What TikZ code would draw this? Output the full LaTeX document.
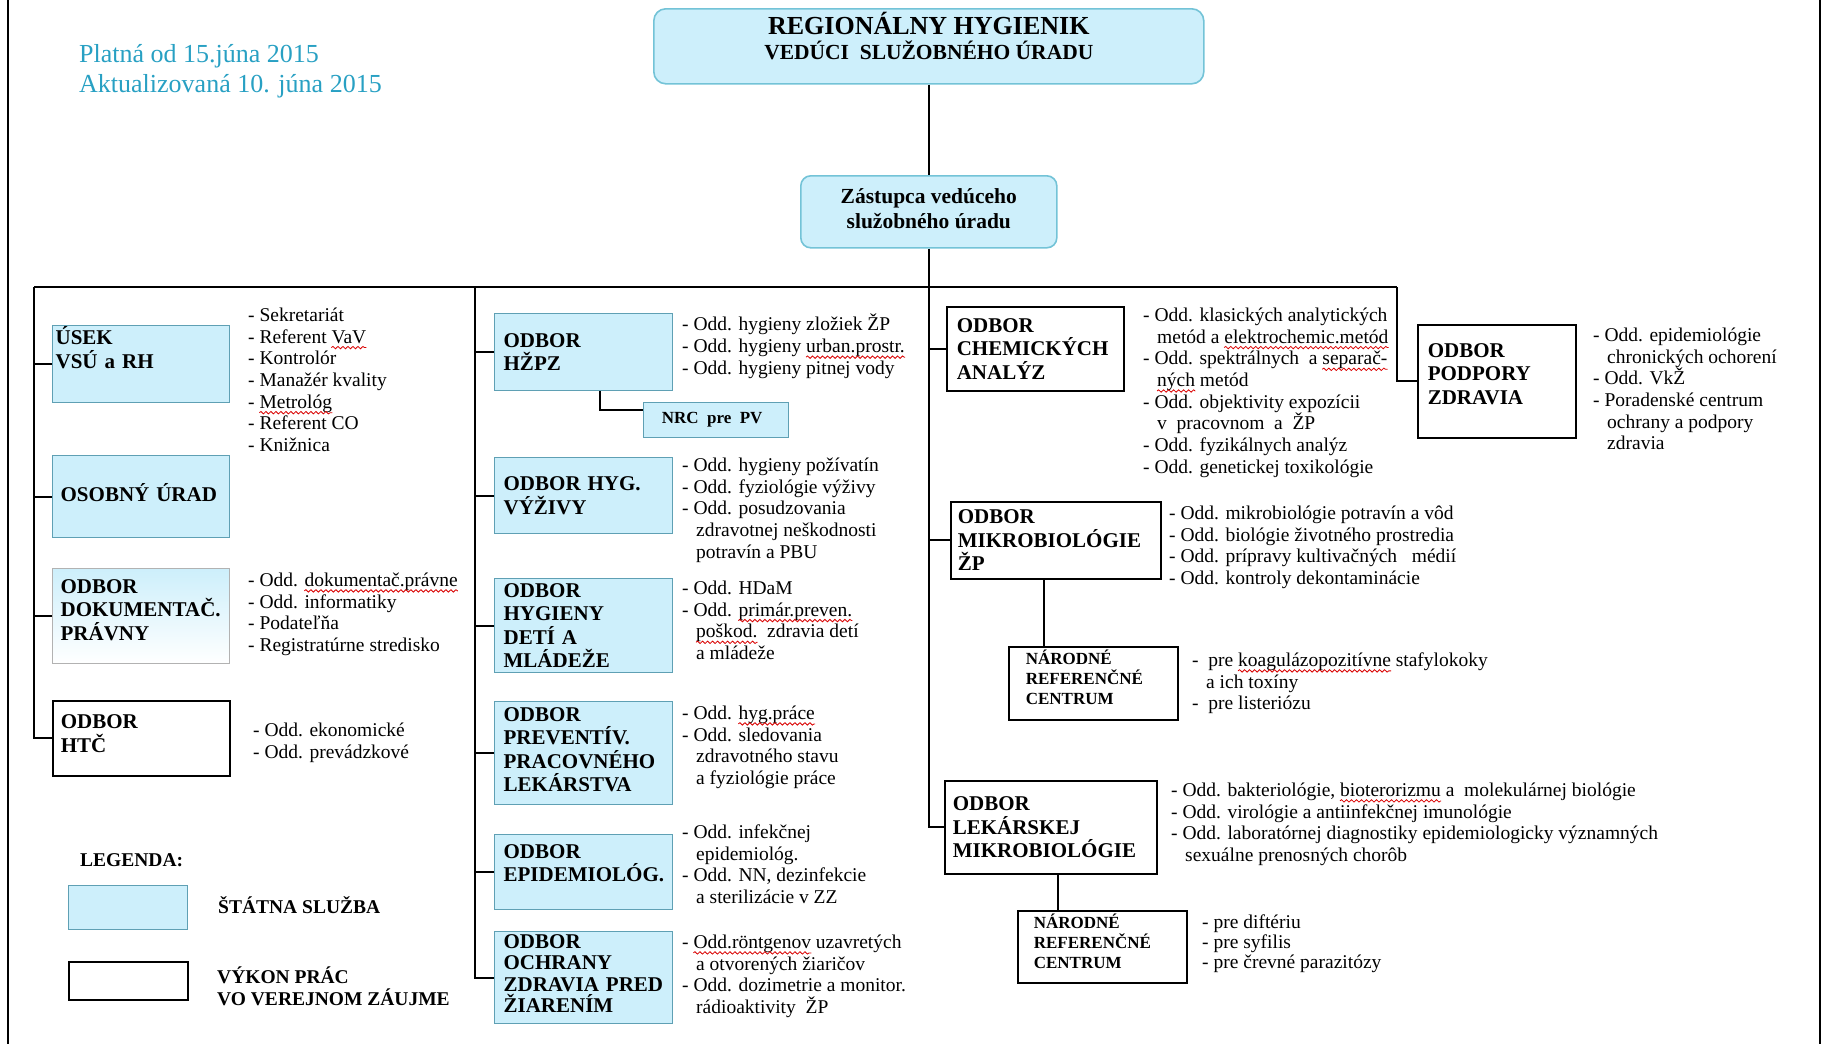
\documentclass[tikz,border=0pt]{standalone}
\usepackage{fontspec}
\setmainfont{Liberation Serif}
\usetikzlibrary{calc,decorations.pathmorphing}
\definecolor{statefill}{RGB}{205,239,251}
\definecolor{stateline}{RGB}{95,160,180}
\definecolor{headline}{RGB}{115,195,215}
\definecolor{datecol}{RGB}{40,160,195}
\newcommand\ind{\hspace*{14pt}}
\newcommand\spell[1]{\tikz[baseline=(sw.base)]{\node[inner sep=0pt, anchor=base west] (sw) {#1}; \draw[overlay, red!85!black, line width=0.8pt, decorate, decoration={snake, amplitude=1.2pt, segment length=5pt}] ([yshift=-4.5pt]sw.base west) -- ([yshift=-4.5pt]sw.base east);}}
\begin{document}
\begin{tikzpicture}[x=1pt,y=-1pt,
	conn/.style={line width=1.7pt},
	box/.style={rectangle, anchor=north west, inner xsep=8pt, inner ysep=0pt, align=left, font=\fontsize{21}{23.5}\selectfont\bfseries},
	stat/.style={box, draw=stateline, line width=1.3pt, fill=statefill},
	grad/.style={box, draw=gray!60, line width=1.3pt, top color=statefill, bottom color=white},
	verej/.style={box, draw=black, line width=1.6pt, fill=white},
	nrcbox/.style={verej, inner xsep=17pt, font=\fontsize{17}{20}\selectfont\bfseries},
	head/.style={rectangle, rounded corners=12pt, draw=headline, line width=1.6pt, fill=statefill, anchor=north west, align=center, inner sep=0pt, font=\fontsize{21.5}{24.5}\selectfont\bfseries},
	lst/.style={anchor=north west, inner sep=0pt, align=left, font=\fontsize{19.5}{21.7}\selectfont},
	leg/.style={anchor=west, inner sep=0pt, align=left, font=\fontsize{19.5}{22}\selectfont\bfseries}]
	\useasboundingbox (0,0) rectangle (1825,1044);
	% page edges
	\draw[line width=2pt] (8,0) -- (8,1044);
	\draw[line width=2pt] (1820,0) -- (1820,1044);
	% dates
	\node[anchor=north west, inner sep=0pt, align=left, text=datecol, font=\fontsize{26}{30}\selectfont] (datum) at (79,41) {\strut Platná od 15.júna 2015\\Aktualizovaná 10. júna 2015};
	% head of office
	\node[head, minimum width=550, minimum height=75, text depth=21pt] (rh) at (653,8) {{\fontsize{26}{24.5}\selectfont REGIONÁLNY HYGIENIK}\\VEDÚCI\ \ SLUŽOBNÉHO ÚRADU};
	\node[head, rounded corners=10pt, minimum width=256, minimum height=72, text depth=7pt] (zast) at (800,175) {Zástupca vedúceho\\služobného úradu};
	\draw[conn] (rh.south) -- (zast.north);
	\coordinate (busl) at (34,287);
	\coordinate (bus2) at (475,287);
	\coordinate (busr) at (1397,287);
	\draw[conn] (zast.south) -- (zast.south |- busl);
	\draw[conn] (busl) -- (busr);
	% left column
	\node[stat, text width=171, inner xsep=3pt, minimum height=77, text depth=57pt] (usek) at (52,325) {ÚSEK\\VSÚ~a~RH};
	\node[stat, text width=161, minimum height=82, text depth=9pt] (osob) at (52,455) {OSOBNÝ~ÚRAD};
	\node[grad, text width=161, minimum height=95, text depth=60pt] (dok) at (52,568) {ODBOR\\DOKUMENTAČ.\\PRÁVNY};
	\node[verej, text width=161, minimum height=75, text depth=33pt] (htc) at (52,700) {ODBOR\\HTČ};
	\node[lst] (usekl) at (248,306) {\strut- Sekretariát\\- Referent \spell{VaV}\\- Kontrolór\\- Manažér kvality\\- \spell{Metrológ}\\- Referent CO\\- Knižnica};
	\node[lst] (dokl) at (248,571) {\strut- Odd. \spell{dokumentač.právne}\\- Odd. informatiky\\- Podateľňa\\- Registratúrne stredisko};
	\node[lst] (htcl) at (253,721) {\strut- Odd. ekonomické\\- Odd. prevádzkové};
	\draw[conn] (busl) |- (htc.west);
	\foreach \n in {usek,osob,dok}
		\draw[conn] (busl |- \n.west) -- (\n.west);
	% middle column
	\node[stat, text width=160, inner xsep=9pt, minimum height=77] (hzpz) at (494,313) {ODBOR\\HŽPZ};
	\node[stat, inner xsep=0pt, minimum width=145, minimum height=35, align=center, font=\fontsize{17}{20}\selectfont\bfseries] (nrc) at (643,402) {NRC\ \ pre\ \ PV\hspace*{8pt}};
	\node[stat, text width=160, inner xsep=9pt, minimum height=76] (vyz) at (494,457) {ODBOR~HYG.\\VÝŽIVY};
	\node[stat, text width=160, inner xsep=9pt, minimum height=94] (deti) at (494,578) {ODBOR\\HYGIENY\\DETÍ~A\\MLÁDEŽE};
	\node[stat, text width=160, inner xsep=9pt, minimum height=103, text depth=78pt] (prev) at (494,701) {ODBOR\\PREVENTÍV.\\PRACOVNÉHO\\LEKÁRSTVA};
	\node[stat, text width=160, inner xsep=9pt, minimum height=75, text depth=42pt] (epi) at (494,834) {ODBOR\\EPIDEMIOLÓG.};
	\node[stat, text width=160, inner xsep=9pt, minimum height=92, text depth=73pt, font=\fontsize{21}{21.5}\selectfont\bfseries] (ziar) at (494,931) {ODBOR\\OCHRANY\\ZDRAVIA~PRED\\ŽIARENÍM};
	\node[lst] (hzpzl) at (682,314) {\strut- Odd. hygieny zložiek ŽP\\- Odd. hygieny \spell{urban.prostr.}\\- Odd. hygieny pitnej vody};
	\node[lst] (vyzl) at (682,456) {\strut- Odd. hygieny požívatín\\- Odd. fyziológie výživy\\- Odd. posudzovania\\\ind zdravotnej neškodnosti\\\ind potravín a PBU};
	\node[lst] (detil) at (682,579) {\strut- Odd. HDaM\\- Odd. \spell{primár.preven.}\\\ind \spell{poškod.}\ \ zdravia detí\\\ind a mládeže};
	\node[lst] (prevl) at (682,704) {\strut- Odd. \spell{hyg.práce}\\- Odd. sledovania\\\ind zdravotného stavu\\\ind a fyziológie práce};
	\node[lst] (epil) at (682,823) {\strut- Odd. infekčnej\\\ind epidemiológ.\\- Odd. NN, dezinfekcie\\\ind a sterilizácie v ZZ};
	\node[lst] (ziarl) at (682,933) {\strut- \spell{Odd.röntgenov} uzavretých\\\ind a otvorených žiaričov\\- Odd. dozimetrie a monitor.\\\ind rádioaktivity\ \ ŽP};
	\draw[conn] (bus2) |- (ziar.west);
	\foreach \n in {hzpz,vyz,deti,prev,epi}
		\draw[conn] (bus2 |- \n.west) -- (\n.west);
	\draw[conn] ($(hzpz.south)+(16,0)$) |- ($(nrc.west)+(0,-10)$);
	% laboratories
	\node[verej, text width=157, inner xsep=10pt, minimum height=84] (chem) at (946,306) {ODBOR\\CHEMICKÝCH\\ANALÝZ};
	\node[verej, text width=196, inner xsep=7pt, minimum height=77] (mikro) at (950,501) {ODBOR\\MIKROBIOLÓGIE\\ŽP};
	\node[nrcbox, text width=135, minimum height=73, text depth=53pt] (nrc1) at (1008,646) {NÁRODNÉ\\REFERENČNÉ\\CENTRUM};
	\node[verej, text width=196, minimum height=93] (lek) at (944,780) {ODBOR\\LEKÁRSKEJ\\MIKROBIOLÓGIE};
	\node[nrcbox, text width=137, inner xsep=16pt, minimum height=72, text depth=52pt] (nrc2) at (1017,910) {NÁRODNÉ\\REFERENČNÉ\\CENTRUM};
	\node[lst] (cheml) at (1143,306) {\strut- Odd. klasických analytických\\\ind metód a \spell{elektrochemic.metód}\\- Odd. spektrálnych\ \ a \spell{separač-}\\\ind \spell{ných} metód\\- Odd. objektivity expozícii\\\ind v\ \ pracovnom\ \ a\ \ ŽP\\- Odd. fyzikálnych analýz\\- Odd. genetickej toxikológie};
	\node[lst] (mikrol) at (1169,504) {\strut- Odd. mikrobiológie potravín a vôd\\- Odd. biológie životného prostredia\\- Odd. prípravy kultivačných\ \ \ médií\\- Odd. kontroly dekontaminácie};
	\node[lst] (nrc1l) at (1192,651) {\strut-\ \ pre \spell{koagulázopozitívne} stafylokoky\\\ind a ich toxíny\\-\ \ pre listeriózu};
	\node[lst] (lekl) at (1171,781) {\strut- Odd. bakteriológie, \spell{bioterorizmu} a\ \ molekulárnej biológie\\- Odd. virológie a antiinfekčnej imunológie\\- Odd. laboratórnej diagnostiky epidemiologicky významných\\\ind sexuálne prenosných chorôb};
	\node[lst, font=\fontsize{19.5}{20}\selectfont] (nrc2l) at (1202,914) {\strut- pre diftériu\\- pre syfilis\\- pre črevné parazitózy};
	\foreach \n in {chem,mikro}
		\draw[conn] (zast.south |- \n.west) -- (\n.west);
	\draw[conn] (zast.south |- busl) |- (lek.west);
	\coordinate (m1) at ($(mikro.south)+(-12,0)$);
	\draw[conn] (m1) -- (m1 |- nrc1.north);
	\coordinate (l1) at ($(lek.south)+(7,0)$);
	\draw[conn] (l1) -- (l1 |- nrc2.north);
	% health promotion
	\node[verej, text width=138, inner xsep=10pt, minimum height=113, text depth=62pt] (podp) at (1417,324) {ODBOR\\PODPORY\\ZDRAVIA};
	\node[lst] (podpl) at (1593,326) {\strut- Odd. epidemiológie\\\ind chronických ochorení\\- Odd. VkŽ\\- Poradenské centrum\\\ind ochrany a podpory\\\ind zdravia};
	\draw[conn] (busr) |- (podp.west);
	% legend
	\node[leg] (legt) at (80,860) {LEGENDA:};
	\node[stat, minimum width=119, minimum height=44] (legs) at (68,885) {};
	\node[leg] (legst) at (218,905) {ŠTÁTNA SLUŽBA};
	\node[verej, minimum width=119, minimum height=38] (legv) at (68,961) {};
	\node[leg] (legvt) at (217,986) {VÝKON PRÁC\\VO VEREJNOM ZÁUJME};
\end{tikzpicture}
\end{document}
